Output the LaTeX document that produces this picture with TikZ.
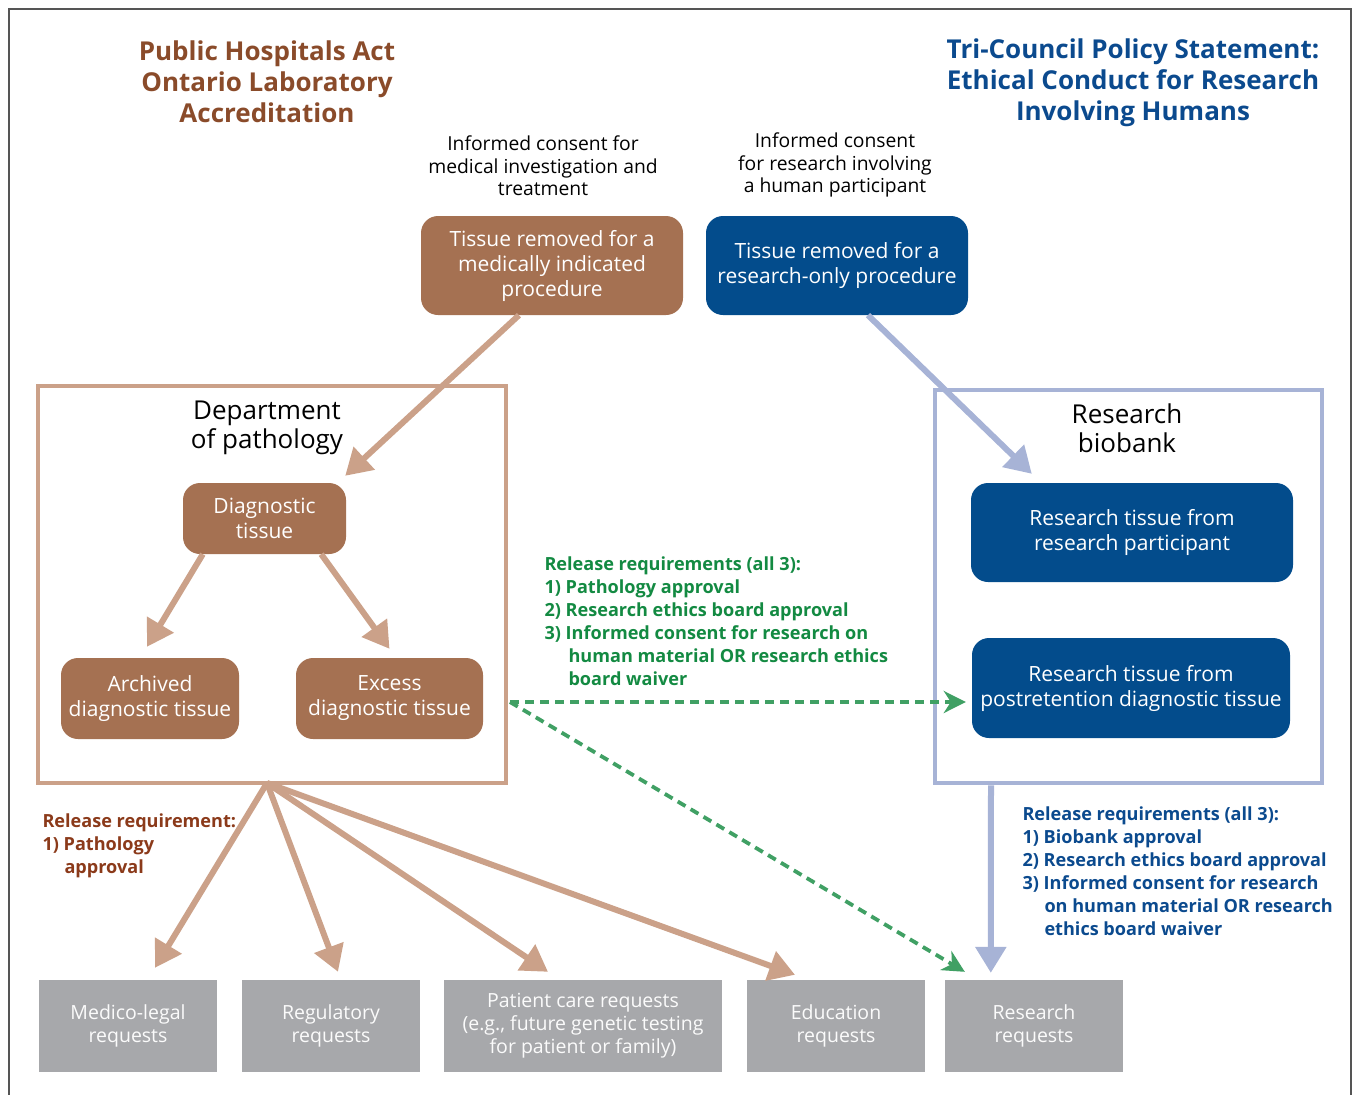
\documentclass[tikz,border=0pt]{standalone}
\usepackage{fontspec}
\setmainfont{Open Sans}
\usetikzlibrary{arrows.meta,calc}
\definecolor{boxbrown}{HTML}{A57152}
\definecolor{linebrown}{HTML}{CBA189}
\definecolor{boxblue}{HTML}{034C8C}
\definecolor{lineblue}{HTML}{A7B3D6}
\definecolor{titlebrown}{HTML}{8A4B2A}
\definecolor{reqbrown}{HTML}{8B3A1A}
\definecolor{txtgreen}{HTML}{138A42}
\definecolor{dashgreen}{HTML}{40A064}
\definecolor{txtblue}{HTML}{0B4A8E}
\definecolor{reqgray}{HTML}{A7A8AB}
\definecolor{framegray}{HTML}{555555}
\tikzset{
  tissuebox/.style={rounded corners=17pt, text=white, align=center,
    inner sep=0pt, font=\fontsize{21}{25}\selectfont},
  brownbox/.style={tissuebox, fill=boxbrown},
  bluebox/.style={tissuebox, fill=boxblue},
  reqbox/.style={fill=reqgray, text=white!95!reqgray, align=center,
    inner sep=0pt, minimum width=178pt, minimum height=92pt,
    font=\fontsize{19.5}{23}\selectfont},
  areaframe/.style={draw, line width=4.5pt, inner sep=0pt},
  heading/.style={align=center, font=\fontsize{26}{31}\bfseries\selectfont},
  areatitle/.style={align=center, font=\fontsize{26}{29}\selectfont},
  note/.style={align=center, font=\fontsize{19.3}{22.5}\selectfont},
  rule/.style={align=left, font=\fontsize{18.1}{23}\bfseries\selectfont},
  fatbrown/.style={draw=linebrown, line width=6pt,
    -{Triangle[length=26pt,width=30pt]}},
  fatblue/.style={draw=lineblue, line width=6pt,
    -{Triangle[length=26pt,width=30pt]}},
  greendash/.style={draw=dashgreen, line width=3.8pt, dash pattern=on 9pt off 6pt,
    -{Stealth[length=22pt,width=22pt,inset=7pt]}},
}
\begin{document}
\begin{tikzpicture}[x=1pt,y=-1pt]
\useasboundingbox (0,0) rectangle (1355,1095);
% outer frame, open at the foot of the page
\draw[framegray, line width=1.2pt] (9,1095) -- (9,9) -- (1351,9) -- (1351,1095);

% headings
\node[heading, text=titlebrown] (lawL) at (267,82)
  {Public Hospitals Act\\Ontario Laboratory\\Accreditation};
\node[heading, text=txtblue] (lawR) at (1133,83)
  {Tri-Council Policy Statement:\\Ethical Conduct for Research\\Involving Humans};

% consent notes
\node[note] (consentMed) at (543,166)
  {Informed consent for\\medical investigation and\\treatment};
\node[note] (consentRes) at (835,165)
  {Informed consent\\for research involving\\a human participant};

% source tissue
\node[brownbox, minimum width=262pt, minimum height=99pt] (med) at (552,265.5)
  {Tissue removed for a\\medically indicated\\procedure};
\node[bluebox, minimum width=262pt, minimum height=99pt] (res) at (837,265.5)
  {Tissue removed for a\\research-only procedure};

% department of pathology
\node[areaframe, draw=linebrown, minimum width=468pt, minimum height=397pt] (dept) at (272,584.5) {};
\node[areatitle] (deptT) at (267,428) {Department\\of pathology};
\node[brownbox, minimum width=163pt, minimum height=71pt] (diag) at (264.5,518.5)
  {Diagnostic\\tissue};
\node[brownbox, minimum width=178pt, minimum height=81pt] (arch) at (150,698.5)
  {Archived\\diagnostic tissue};
\node[brownbox, minimum width=187pt, minimum height=81pt] (excess) at (389.5,698.5)
  {Excess\\diagnostic tissue};

% research biobank
\node[areaframe, draw=lineblue, minimum width=387pt, minimum height=393pt] (bank) at (1128.5,586.5) {};
\node[areatitle] (bankT) at (1127,428) {Research\\biobank};
\node[bluebox, minimum width=322pt, minimum height=99pt] (rp) at (1132,532.5)
  {Research tissue from\\research participant};
\node[bluebox, minimum width=318pt, minimum height=100pt] (post) at (1131,688)
  {Research tissue from\\postretention diagnostic tissue};

% request boxes
\node[reqbox] (ml) at (128,1026) {Medico-legal\\requests};
\node[reqbox] (reg) at (331,1026) {Regulatory\\requests};
\node[reqbox, minimum width=278pt] (pc) at (583,1026)
  {Patient care requests\\(e.g., future genetic testing\\for patient or family)};
\node[reqbox] (edu) at (836,1026) {Education\\requests};
\node[reqbox] (rr) at (1034,1026) {Research\\requests};

% release requirement notes
\node[rule, text=txtgreen, anchor=north west] (relG) at (541,553)
  {Release requirements (all 3):\\
   1) Pathology approval\\
   2) Research ethics board approval\\
   3) Informed consent for research on\\
   \hspace*{24pt}human material OR research ethics\\
   \hspace*{24pt}board waiver};
\node[rule, text=reqbrown, anchor=north west] (relB) at (39,810)
  {Release requirement:\\
   1) Pathology\\
   \hspace*{22pt}approval};
\node[rule, text=txtblue, anchor=north west] (relU) at (1019,803)
  {Release requirements (all 3):\\
   1) Biobank approval\\
   2) Research ethics board approval\\
   3) Informed consent for research\\
   \hspace*{22pt}on human material OR research\\
   \hspace*{22pt}ethics board waiver};

% flows into the two areas
\draw[fatbrown] ($(med.south west)!0.374!(med.south east)$) -- ([shift={(-1,-7)}]diag.north east);
\draw[fatblue] ($(res.south west)!0.618!(res.south east)$) -- ([shift={(61,-9)}]rp.north west);
\draw[fatbrown] ([shift={(20,0)}]diag.south west) -- ([shift={(-3,-11)}]arch.north);
\draw[fatbrown] ([shift={(-25,0)}]diag.south east) -- ([shift={(0,-9)}]excess.north);

% release to research
\coordinate (gs) at (510,702);
\draw[greendash] (gs) -- ([xshift=-6pt]post.west |- gs);
\draw[greendash] (gs) -- ([shift={(20,-8)}]rr.north west);
\draw[fatblue] (bank.south -| {991,0}) -- ([shift={(46,-7)}]rr.north west);

% release from pathology
\coordinate (fan) at (267,783);
\draw[fatbrown] (fan) -- ([shift={(27,-12)}]ml.north);
\draw[fatbrown] (fan) -- ([shift={(7,-8)}]reg.north);
\draw[fatbrown] (fan) -- ([shift={(-35,-8)}]pc.north);
\draw[fatbrown] (fan) -- ([shift={(-41,-5)}]edu.north);
\end{tikzpicture}
\end{document}
